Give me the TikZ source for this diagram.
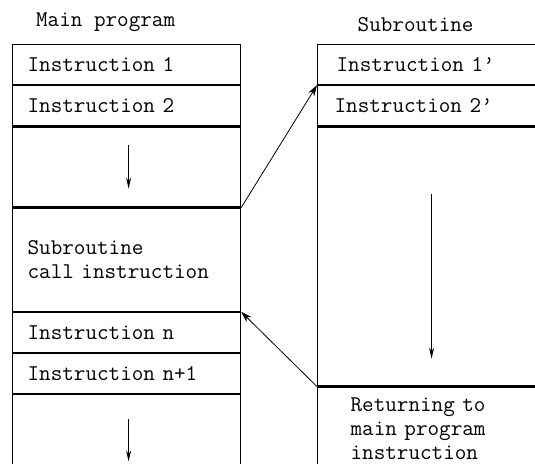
\documentclass[tikz,border=0pt]{standalone}
\usepackage{fontspec}
\newfontfamily\progfont{Latin Modern Mono}
\usetikzlibrary{arrows.meta, positioning, calc}

\begin{document}
\begin{tikzpicture}[x=1pt,y=-1pt,
                    cell/.style={draw,rectangle,anchor=north west,line width=1.2pt,minimum width=228pt,minimum height=40pt,
                                 inner ysep=0pt,inner xsep=15pt,text width=198pt,align=left,font=\progfont\fontsize{22.5}{24}\selectfont},
                    title/.style={font=\progfont\fontsize{22.5}{24}\selectfont},
                    flow/.style={-{Stealth[length=11pt,width=5pt]},line width=1.2pt},
                    link/.style={-{Stealth[length=11pt,width=7pt]},line width=0.8pt}]
\useasboundingbox (0,0) rectangle (535,463);
\clip (0,0) rectangle (535,463);

% main program
\node[cell] (Ins1) at (12,44) {Instruction 1};
\node[cell] (Ins2) at (Ins1.south west) {Instruction 2};
\node[cell,minimum height=80pt] (Gap1) at (Ins2.south west) {};
\node[cell,minimum height=103pt] (Call) at (Gap1.south west) {Subroutine\\call instruction};
\node[cell] (InsN) at (Call.south west) {Instruction n};
\node[cell] (InsN1) at (InsN.south west) {Instruction n+1};
\node[cell,minimum height=80pt] (Gap2) at (InsN1.south west) {};

% subroutine
\node[cell,inner xsep=19pt,text width=190pt] (Sub1) at (317,44) {Instruction 1’};
\node[cell,inner xsep=17pt,text width=194pt] (Sub2) at (Sub1.south west) {Instruction 2’};
\node[cell,minimum height=259pt] (SubGap) at (Sub2.south west) {};
\node[cell,minimum height=82pt,inner xsep=33pt,text width=162pt] (Ret) at (SubGap.south west) {Returning to\\main program\\instruction};

\node[title] (MainLabel) [shift={(-21,-22)}] at (Ins1.north) {Main program};
\node[title] (SubLabel) [shift={(-16,-19)}] at (Sub1.north) {Subroutine};

\coordinate[shift={(2,19)}] (Down1Start) at (Gap1.north);
\coordinate[shift={(2,-19)}] (Down1End) at (Gap1.south);
\coordinate[shift={(2,25)}] (Down2Start) at (Gap2.north);
\coordinate[shift={(2,-14)}] (Down2End) at (Gap2.south);
\coordinate[shift={(0,68)}] (SubDownStart) at (SubGap.north);
\coordinate[shift={(0,-28)}] (SubDownEnd) at (SubGap.south);

\draw[flow] (Down1Start) -- (Down1End);
\draw[flow] (Down2Start) -- (Down2End);
\draw[flow] (SubDownStart) -- (SubDownEnd);

\draw[link] (Call.north east) -- (Sub2.north west);
\draw[link] (Ret.north west) -- (Call.south east);
\end{tikzpicture}
\end{document}
